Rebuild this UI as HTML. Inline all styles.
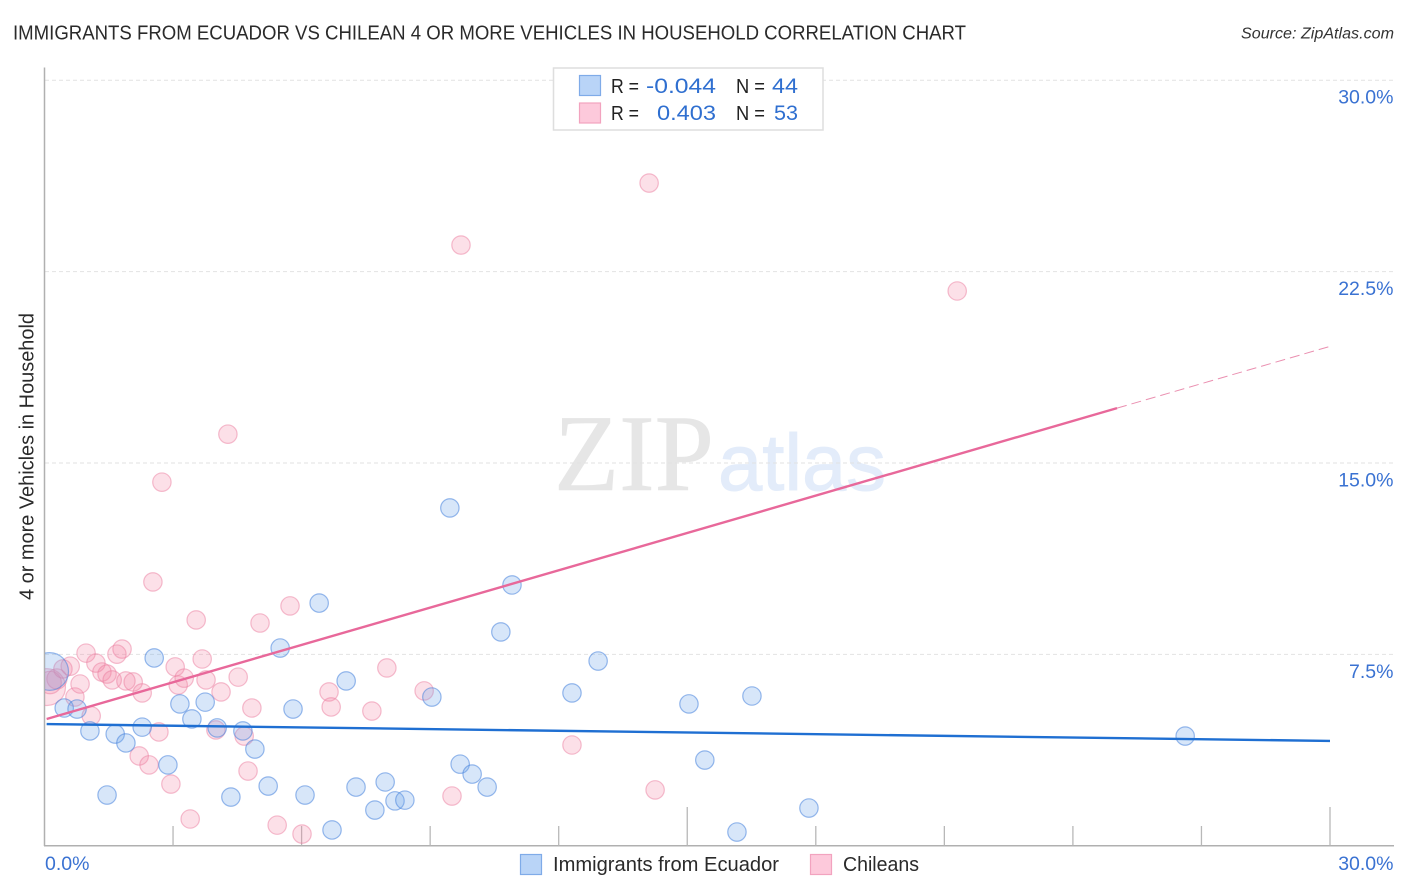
<!DOCTYPE html>
<html lang="en">
<head>
<meta charset="utf-8">
<title>Immigrants from Ecuador vs Chilean 4 or more Vehicles in Household Correlation Chart</title>
<style>
html,body{margin:0;padding:0;background:#fff;width:1406px;height:892px;overflow:hidden}
svg{display:block;font-family:"Liberation Sans",sans-serif}
</style>
</head>
<body>
<svg id="chart" xmlns="http://www.w3.org/2000/svg" width="1406" height="892" viewBox="0 0 1406 892">
  <defs>
    <clipPath id="plot-clip"><rect x="45" y="60" width="1349" height="786"/></clipPath>
  </defs>
  <text x="13" y="39.5" font-size="20" fill="#2a2a2a" textLength="953" lengthAdjust="spacingAndGlyphs">IMMIGRANTS FROM ECUADOR VS CHILEAN 4 OR MORE VEHICLES IN HOUSEHOLD CORRELATION CHART</text>
  <text x="1241" y="38.5" font-size="15.5" font-style="italic" fill="#333" textLength="153" lengthAdjust="spacingAndGlyphs">Source: ZipAtlas.com</text>

  <text x="554" y="490" font-family="'Liberation Serif',serif" font-size="109" fill="#e6e6e6" stroke="#e6e6e6" stroke-width="0.6" textLength="160" lengthAdjust="spacingAndGlyphs">ZIP</text>
  <text x="718" y="490" font-size="80" fill="#e3ecfa" stroke="#e3ecfa" stroke-width="1" textLength="168" lengthAdjust="spacingAndGlyphs">atlas</text>

  <g id="grid"></g>
  <g id="axes"></g>
  <g id="points" clip-path="url(#plot-clip)"></g>
  <g id="trends"></g>
  <g id="labels"></g>

  <text transform="translate(33.5,600) rotate(-90)" font-size="20" fill="#2a2a2a" textLength="287" lengthAdjust="spacingAndGlyphs">4 or more Vehicles in Household</text>

  <g>
    <rect x="553.5" y="68" width="269.5" height="62" fill="#fff" stroke="#dedede" stroke-width="1.5"/>
    <rect x="579.5" y="75.5" width="21" height="20" fill="#b9d4f7" stroke="#7fabe8" stroke-width="1.2"/>
    <rect x="579.5" y="103" width="21" height="20" fill="#fdc9db" stroke="#f2a3bf" stroke-width="1.2"/>
    <text x="611" y="93" font-size="20" fill="#222" textLength="28" lengthAdjust="spacingAndGlyphs">R =</text>
    <text x="646" y="93" font-size="21" fill="#2f6fd0" textLength="70" lengthAdjust="spacingAndGlyphs">-0.044</text>
    <text x="736" y="93" font-size="20" fill="#222" textLength="29" lengthAdjust="spacingAndGlyphs">N =</text>
    <text x="772" y="93" font-size="21" fill="#2f6fd0" textLength="26" lengthAdjust="spacingAndGlyphs">44</text>
    <text x="611" y="120" font-size="20" fill="#222" textLength="28" lengthAdjust="spacingAndGlyphs">R =</text>
    <text x="657" y="120" font-size="21" fill="#2f6fd0" textLength="59" lengthAdjust="spacingAndGlyphs">0.403</text>
    <text x="736" y="120" font-size="20" fill="#222" textLength="29" lengthAdjust="spacingAndGlyphs">N =</text>
    <text x="774" y="120" font-size="21" fill="#2f6fd0" textLength="24" lengthAdjust="spacingAndGlyphs">53</text>
  </g>

  <g>
    <rect x="520.5" y="854.5" width="21" height="20" fill="#b9d4f7" stroke="#7fabe8" stroke-width="1.2"/>
    <text x="553" y="871" font-size="20" fill="#2a2a2a" textLength="226" lengthAdjust="spacingAndGlyphs">Immigrants from Ecuador</text>
    <rect x="810.5" y="854.5" width="21" height="20" fill="#fdc9db" stroke="#f2a3bf" stroke-width="1.2"/>
    <text x="843" y="871" font-size="20" fill="#2a2a2a" textLength="76" lengthAdjust="spacingAndGlyphs">Chileans</text>
  </g>
</svg>
<script>
const ecuadorX = [0.12,0.46,0.76,1.06,1.46,1.65,1.90,2.28,2.56,2.88,3.16,3.44,3.75,4.03,4.35,4.63,4.91,5.22,5.50,5.80,6.08,6.41,6.71,7.04,7.27,7.71,7.95,8.18,8.41,9.04,9.46,9.70,9.98,10.33,10.65,10.91,12.31,12.92,15.04,15.41,16.16,16.51,17.84,26.62];
const ecuadorY = [6.83,5.40,5.36,4.50,1.99,4.38,4.03,4.65,7.36,3.17,5.56,4.97,5.63,4.62,1.91,4.50,3.79,2.34,7.75,5.36,1.99,9.51,0.62,6.46,2.30,1.40,2.50,1.76,1.79,5.83,13.24,3.20,2.81,2.30,8.38,10.22,5.99,7.24,5.56,3.36,0.54,5.87,1.48,4.30];
const ecuadorWeight = [4.2,1,1,1,1,1,1,1,1,1,1,1,1,1,1,1,1,1,1,1,1,1,1,1,1,1,1,1,1,1,1,1,1,1,1,1,1,1,1,1,1,1,1,1];

const chileansX = [0.06,0.13,0.29,0.43,0.60,0.71,0.83,0.97,1.09,1.20,1.34,1.46,1.58,1.69,1.81,1.90,2.07,2.21,2.28,2.44,2.53,2.67,2.74,2.95,3.05,3.12,3.26,3.40,3.54,3.68,3.77,4.00,4.12,4.28,4.52,4.66,4.75,4.84,5.03,5.43,5.73,6.01,6.64,6.69,7.64,7.99,8.86,9.51,9.72,12.31,14.11,14.25,21.30];
const chileansY = [6.22,6.40,6.54,6.93,7.04,5.83,6.34,7.55,5.09,7.16,6.81,6.73,6.50,7.51,7.71,6.46,6.42,3.52,5.99,3.17,10.34,4.46,14.25,2.42,7.01,6.30,6.57,1.05,8.85,7.32,6.50,4.54,6.03,16.13,6.61,4.30,2.93,5.40,8.73,0.81,9.40,0.46,6.03,5.44,5.28,6.97,6.07,1.95,23.54,3.95,25.97,2.19,21.74];
const chileansWeight = [4,1.5,1.2,1,1,1,1,1,1,1,1,1,1,1,1,1,1,1,1,1,1,1,1,1,1,1,1,1,1,1,1,1,1,1,1,1,1,1,1,1,1,1,1,1,1,1,1,1,1,1,1,1,1];

const ecuadorTrendX = [0.05,30.0];
const ecuadorTrendY = [4.77,4.11];
const chileansTrendX = [0.05,25.03];
const chileansTrendY = [4.97,17.15];
const chileansForecastX = [25.03,30.02];
const chileansForecastY = [17.15,19.58];

const xTickValues = [3,6,9,12,15,18,21,24,27,30];
const xMajorTicks = [15,30];
const xLabelValues = [0,30];
const xLabelText = ["0.0%","30.0%"];
const yGridValues = [7.5,15,22.5,30];
const yLabelText = ["7.5%","15.0%","22.5%","30.0%"];

function xScale(v){ return 44.5 + v * 42.85; }
function yScale(v){ return 845.8 - v * 25.52; }

const SVG_NS = "http://www.w3.org/2000/svg";
const grid = document.getElementById("grid");
const axes = document.getElementById("axes");
const points = document.getElementById("points");
const trends = document.getElementById("trends");
const labels = document.getElementById("labels");

function line(parent,x1,y1,x2,y2,stroke,width,dash){
  const el = document.createElementNS(SVG_NS,"line");
  el.setAttribute("x1",x1);
  el.setAttribute("y1",y1);
  el.setAttribute("x2",x2);
  el.setAttribute("y2",y2);
  el.setAttribute("stroke",stroke);
  el.setAttribute("stroke-width",width);
  if(dash) el.setAttribute("stroke-dasharray",dash);
  parent.appendChild(el);
  return el;
}

yGridValues.forEach(function(v,i){
  const g = line(grid,45,yScale(v),1394,yScale(v),"#e2e2e2",1,"4 3");
  
  
  const t = document.createElementNS(SVG_NS,"text");
  
  
  t.setAttribute("x",1393.5);
  t.setAttribute("y",yScale(v)+23.5);
  t.setAttribute("text-anchor","end");
  t.setAttribute("font-size","19.5");
  t.setAttribute("fill","#3a72d2");
  t.textContent = yLabelText[i];
  labels.appendChild(t);
});

const leftAxis = line(axes,44.5,67.5,44.5,846,"#b0b0b0",1.5);


const bottomAxis = line(axes,44,845.8,1394,845.8,"#b0b0b0",1.5);



xTickValues.forEach(function(v){
  const major = xMajorTicks.indexOf(v) >= 0;
  const tick = line(axes,xScale(v),major ? 807 : 826,xScale(v),845.5,"#b8b8b8",1.3);
  
  
});

xLabelValues.forEach(function(v,i){
  const t = document.createElementNS(SVG_NS,"text");
  
  
  t.setAttribute("x", i === 0 ? xScale(v) + 0.5 : 1393.5);
  t.setAttribute("y",870);
  t.setAttribute("text-anchor", i === 0 ? "start" : "end");
  t.setAttribute("font-size","19.5");
  t.setAttribute("fill","#3a72d2");
  t.textContent = xLabelText[i];
  labels.appendChild(t);
});

function drawPoints(xs,ys,ws,fill,stroke,name){
  xs.forEach(function(v,i){
    const c = document.createElementNS(SVG_NS,"circle");
    
    
    c.setAttribute("cx",xScale(v));
    c.setAttribute("cy",yScale(ys[i]));
    c.setAttribute("r",9.2 * Math.sqrt(ws[i]));
    c.setAttribute("fill",fill);
    c.setAttribute("stroke",stroke);
    c.setAttribute("stroke-width",1.2);
    points.appendChild(c);
  });
}
drawPoints(chileansX,chileansY,chileansWeight,"rgba(243,135,168,0.26)","rgba(236,125,160,0.5)","point-chileans");
drawPoints(ecuadorX,ecuadorY,ecuadorWeight,"rgba(110,165,235,0.28)","rgba(70,130,220,0.55)","point-ecuador");

const trendBlue = line(trends,xScale(ecuadorTrendX[0]),yScale(ecuadorTrendY[0]),xScale(ecuadorTrendX[1]),yScale(ecuadorTrendY[1]),"#1f6fd2",2.4);


const trendPink = line(trends,xScale(chileansTrendX[0]),yScale(chileansTrendY[0]),xScale(chileansTrendX[1]),yScale(chileansTrendY[1]),"#e8689a",2.4);


const forecastPink = line(trends,xScale(chileansForecastX[0]),yScale(chileansForecastY[0]),xScale(chileansForecastX[1]),yScale(chileansForecastY[1]),"#ea8fb0",1,"10 5");


</script>
</body>
</html>
